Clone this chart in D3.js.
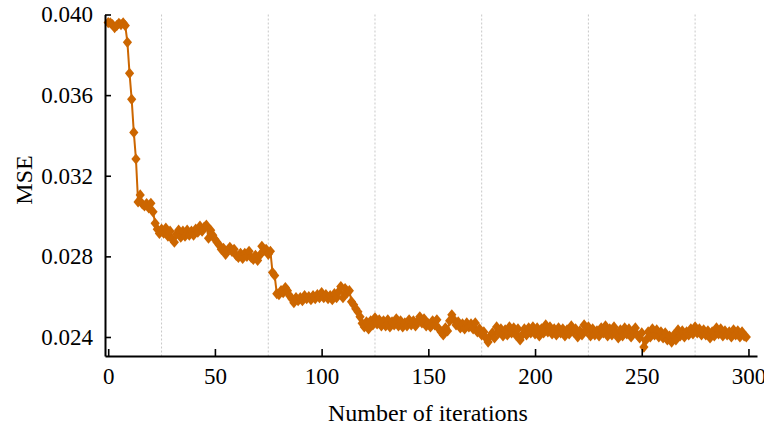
<!DOCTYPE html>
<html>
<head>
<meta charset="utf-8">
<script src="https://cdn.jsdelivr.net/npm/d3@7"></script>
<style>
  html, body { margin: 0; padding: 0; background: #fff; }
  svg { display: block; }
</style>
</head>
<body>
<svg id="chart" width="764" height="434"></svg>
<script>
// MSE recorded at each training iteration (index = iteration number)
const mseValues = [
  0.03960, 0.03958, 0.03950, 0.03935, 0.03945, 0.03956, 0.03950, 0.03958, 0.03945, 0.03862,
  0.03708, 0.03579, 0.03415, 0.03283, 0.03070, 0.03105, 0.03060, 0.03050, 0.03062, 0.03040,
  0.03063, 0.03021, 0.02964, 0.02935, 0.02914, 0.02935, 0.02915, 0.02940, 0.02900, 0.02925,
  0.02885, 0.02870, 0.02910, 0.02930, 0.02895, 0.02925, 0.02900, 0.02930, 0.02905, 0.02925,
  0.02905, 0.02935, 0.02920, 0.02950, 0.02925, 0.02945, 0.02955, 0.02890, 0.02930, 0.02905,
  0.02885, 0.02870, 0.02856, 0.02835, 0.02840, 0.02810, 0.02830, 0.02845, 0.02825, 0.02835,
  0.02805, 0.02795, 0.02815, 0.02790, 0.02815, 0.02800, 0.02825, 0.02795, 0.02785, 0.02805,
  0.02780, 0.02805, 0.02850, 0.02830, 0.02835, 0.02810, 0.02825, 0.02720, 0.02705, 0.02615,
  0.02610, 0.02630, 0.02620, 0.02645, 0.02630, 0.02605, 0.02590, 0.02570, 0.02595, 0.02580,
  0.02595, 0.02580, 0.02605, 0.02590, 0.02600, 0.02585, 0.02605, 0.02590, 0.02610, 0.02595,
  0.02620, 0.02595, 0.02610, 0.02590, 0.02605, 0.02585, 0.02615, 0.02595, 0.02625, 0.02650,
  0.02595, 0.02640, 0.02620, 0.02630, 0.02575, 0.02560, 0.02540, 0.02525, 0.02500, 0.02468,
  0.02450, 0.02475, 0.02440, 0.02480, 0.02460, 0.02495, 0.02465, 0.02485, 0.02455, 0.02480,
  0.02455, 0.02485, 0.02450, 0.02475, 0.02460, 0.02490, 0.02455, 0.02480, 0.02450, 0.02470,
  0.02455, 0.02485, 0.02460, 0.02480, 0.02455, 0.02475, 0.02500, 0.02470, 0.02490, 0.02455,
  0.02465, 0.02450, 0.02480, 0.02460, 0.02485, 0.02440, 0.02425, 0.02410, 0.02445, 0.02430,
  0.02480, 0.02510, 0.02485, 0.02460, 0.02475, 0.02445, 0.02465, 0.02440, 0.02470, 0.02450,
  0.02465, 0.02440, 0.02470, 0.02425, 0.02440, 0.02410, 0.02425, 0.02395, 0.02375, 0.02405,
  0.02420, 0.02395, 0.02450, 0.02420, 0.02440, 0.02405, 0.02435, 0.02410, 0.02450, 0.02420,
  0.02445, 0.02410, 0.02440, 0.02385, 0.02410, 0.02440, 0.02410, 0.02445, 0.02420, 0.02450,
  0.02415, 0.02445, 0.02405, 0.02440, 0.02420, 0.02460, 0.02425, 0.02450, 0.02415, 0.02440,
  0.02410, 0.02445, 0.02420, 0.02440, 0.02405, 0.02435, 0.02415, 0.02455, 0.02425, 0.02440,
  0.02400, 0.02430, 0.02410, 0.02460, 0.02430, 0.02450, 0.02405, 0.02440, 0.02410, 0.02430,
  0.02405, 0.02445, 0.02420, 0.02455, 0.02405, 0.02440, 0.02410, 0.02450, 0.02415, 0.02395,
  0.02435, 0.02405, 0.02445, 0.02415, 0.02440, 0.02400, 0.02430, 0.02445, 0.02410, 0.02395,
  0.02420, 0.02350, 0.02385, 0.02425, 0.02400, 0.02440, 0.02410, 0.02435, 0.02400, 0.02425,
  0.02395, 0.02420, 0.02385, 0.02405, 0.02375, 0.02410, 0.02385, 0.02435, 0.02405, 0.02430,
  0.02400, 0.02425, 0.02410, 0.02440, 0.02415, 0.02450, 0.02420, 0.02440, 0.02410, 0.02435,
  0.02410, 0.02430, 0.02395, 0.02425, 0.02405, 0.02445, 0.02415, 0.02440, 0.02405, 0.02430,
  0.02410, 0.02425, 0.02400, 0.02435, 0.02410, 0.02430, 0.02400, 0.02425, 0.02405, 0.02400
];

const xTicks = [0, 50, 100, 150, 200, 250, 300];
const yTicks = [0.024, 0.028, 0.032, 0.036, 0.040];
const gridTicks = [25, 75, 125, 175, 225, 275];

const xLabel = "Number of iterations";
const yLabel = "MSE";

const color = "#cc6600";
const serif = "'Liberation Serif', 'Times New Roman', Times, serif";

const svg = d3.select("#chart");

const x = d3.scaleLinear().domain([-1.5, 304]).range([105, 757]);
const y = d3.scaleLinear().domain([0.023057, 0.040]).range([356, 14.5]);

const points = mseValues.map((v, i) => ({ it: i, v }));

// dotted vertical guides between the labelled ticks
svg.append("g")
  .selectAll("line")
  .data(gridTicks)
  .join("line")
  .attr("x1", d => x(d)).attr("x2", d => x(d))
  .attr("y1", y(0.040)).attr("y2", y.range()[0])
  .attr("stroke", "#c8c8c8")
  .attr("stroke-width", 1)
  .attr("stroke-dasharray", "2,2");

// curve and diamond markers
const line = d3.line().x(d => x(d.it)).y(d => y(d.v));
svg.append("path")
  .datum(points)
  .attr("d", line)
  .attr("fill", "none")
  .attr("stroke", color)
  .attr("stroke-width", 2);

const diamond = "M0,-5.6L4.6,0L0,5.6L-4.6,0Z";
svg.append("g")
  .selectAll("path")
  .data(points)
  .join("path")
  .attr("transform", d => `translate(${x(d.it)},${y(d.v)})`)
  .attr("d", diamond)
  .attr("fill", color);

// axes
const xAxis = d3.axisBottom(x)
  .tickValues(xTicks)
  .tickFormat(d3.format("d"))
  .tickSizeInner(-7)
  .tickSizeOuter(0)
  .tickPadding(12);

const yAxis = d3.axisLeft(y)
  .tickValues(yTicks)
  .tickFormat(d3.format(".3f"))
  .tickSizeInner(-6)
  .tickSizeOuter(0)
  .tickPadding(12);

const gx = svg.append("g")
  .attr("transform", `translate(0,${y.range()[0]})`)
  .call(xAxis);
const gy = svg.append("g")
  .attr("transform", `translate(${x.range()[0]},0)`)
  .call(yAxis);

[gx, gy].forEach(g => {
  g.attr("font-family", null).attr("font-size", null);
  g.select(".domain").attr("stroke", "#000").attr("stroke-width", 2);
  g.selectAll(".tick line").attr("stroke", "#000").attr("stroke-width", 1.6);
  g.selectAll(".tick text")
    .style("font-family", serif)
    .style("font-size", "23px")
    .attr("fill", "#000");
});

// axis titles
svg.append("text")
  .attr("x", 428)
  .attr("y", 421)
  .attr("text-anchor", "middle")
  .style("font-family", serif)
  .style("font-size", "24px")
  .attr("fill", "#000")
  .text(xLabel);

svg.append("text")
  .attr("transform", "translate(32,180) rotate(-90)")
  .attr("text-anchor", "middle")
  .style("font-family", serif)
  .style("font-size", "24px")
  .attr("fill", "#000")
  .text(yLabel);
</script>
</body>
</html>
